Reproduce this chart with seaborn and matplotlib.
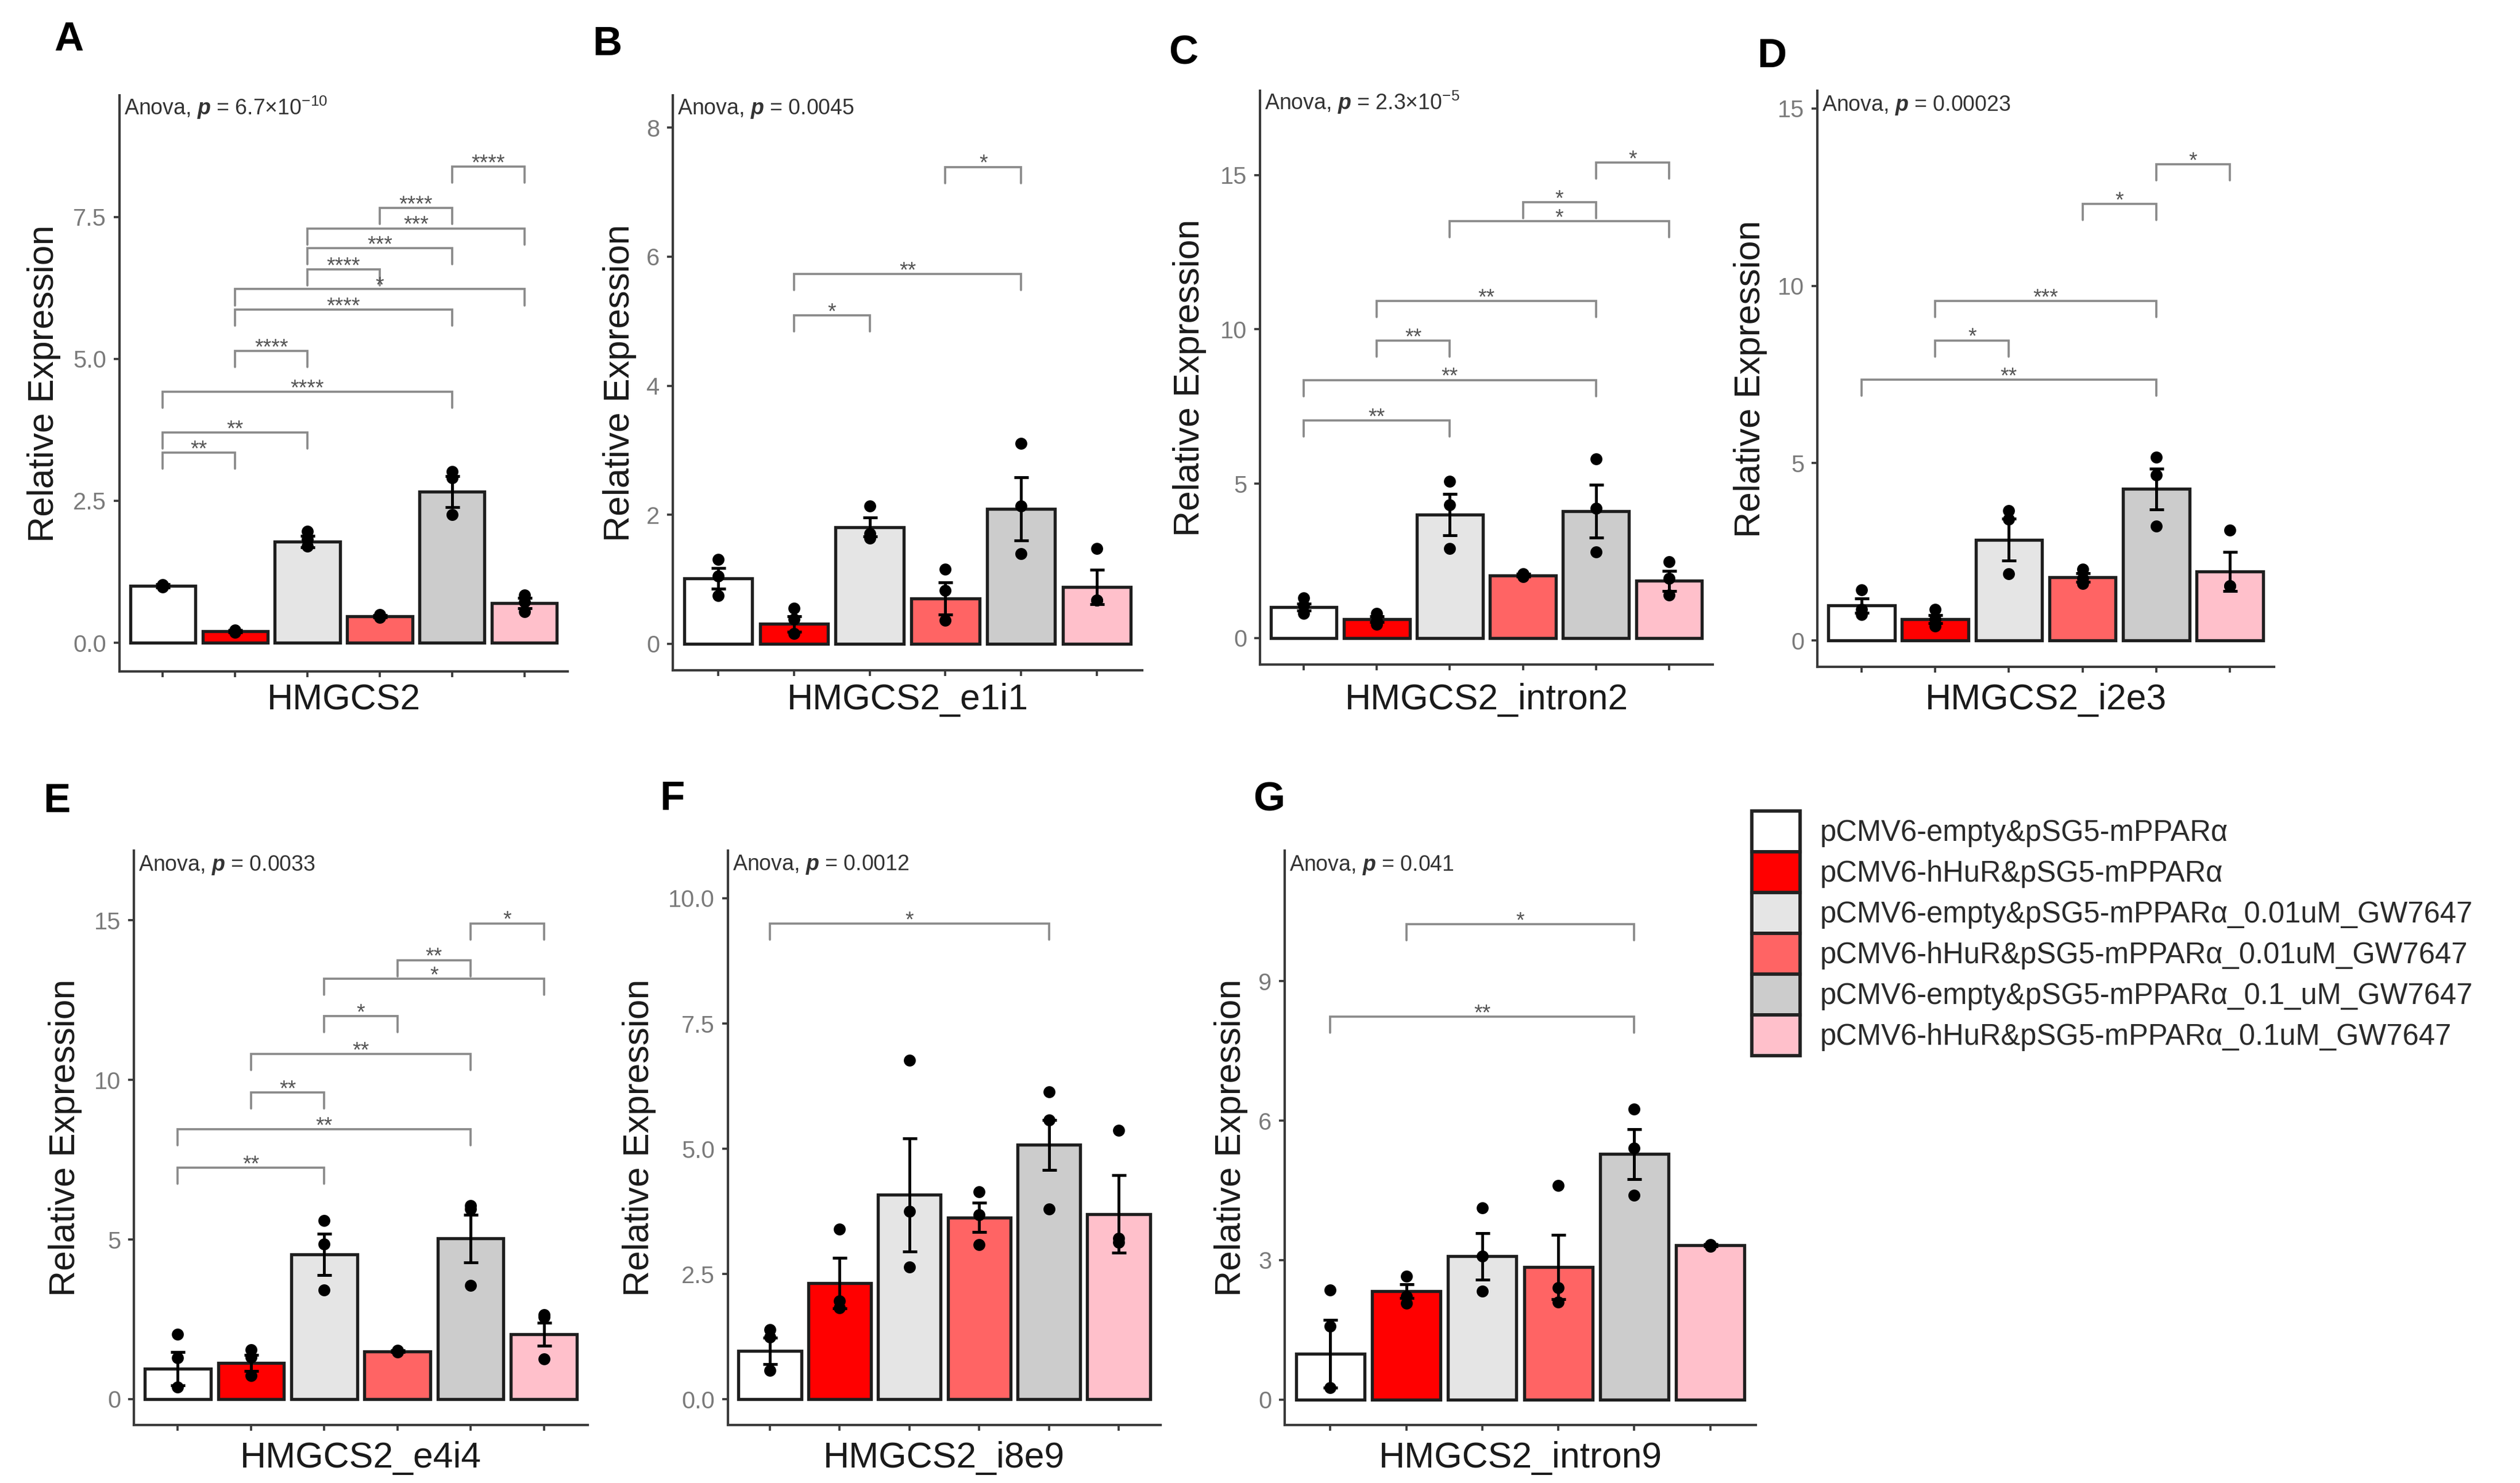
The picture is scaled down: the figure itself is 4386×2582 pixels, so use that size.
import numpy as np
import pandas as pd
import matplotlib
matplotlib.use("Agg")
import matplotlib.pyplot as plt
import matplotlib.transforms as mtransforms
from matplotlib.patches import Patch
import seaborn as sns

# ---------------- data ----------------
groups = ["pCMV6-empty&pSG5-mPPARα",
          "pCMV6-hHuR&pSG5-mPPARα",
          "pCMV6-empty&pSG5-mPPARα_0.01uM_GW7647",
          "pCMV6-hHuR&pSG5-mPPARα_0.01uM_GW7647",
          "pCMV6-empty&pSG5-mPPARα_0.1_uM_GW7647",
          "pCMV6-hHuR&pSG5-mPPARα_0.1uM_GW7647"]
colors = ["#FFFFFF", "#FF0000", "#E5E5E5", "#FF6464", "#CCCCCC", "#FFC0CB"]

panel_letters = ["A", "B", "C", "D", "E", "F", "G"]
genes = ["HMGCS2", "HMGCS2_e1i1", "HMGCS2_intron2", "HMGCS2_i2e3",
         "HMGCS2_e4i4", "HMGCS2_i8e9", "HMGCS2_intron9"]
anova_p = [r"6.7×10$^{-10}$", "0.0045", r"2.3×10$^{-5}$", "0.00023",
           "0.0033", "0.0012", "0.041"]

a_mean = [1.00, 0.20, 1.78, 0.47, 2.66, 0.70]
a_se = [0.03, 0.02, 0.10, 0.02, 0.27, 0.09]
a_pts = [[1.02, 0.99, 0.98], [0.22, 0.20, 0.18], [1.96, 1.82, 1.70],
         [0.50, 0.47, 0.45], [3.02, 2.90, 2.26], [0.84, 0.72, 0.55]]
a_brk = [(1, 2, 3.35, "**"), (1, 3, 3.70, "**"), (1, 5, 4.42, "****"),
         (2, 3, 5.14, "****"), (2, 5, 5.87, "****"), (2, 6, 6.23, "*"),
         (3, 4, 6.58, "****"), (3, 5, 6.95, "***"), (3, 6, 7.30, "***"),
         (4, 5, 7.66, "****"), (5, 6, 8.39, "****")]

b_mean = [1.01, 0.31, 1.81, 0.70, 2.09, 0.88]
b_se = [0.16, 0.12, 0.15, 0.25, 0.49, 0.27]
b_pts = [[1.31, 1.05, 0.75], [0.55, 0.38, 0.16], [2.14, 1.71, 1.64],
         [1.16, 0.83, 0.36], [3.11, 2.14, 1.40], [1.48, 0.68, 0.68]]
b_brk = [(2, 3, 5.09, "*"), (2, 5, 5.73, "**"), (4, 5, 7.39, "*")]

c_mean = [1.00, 0.61, 4.00, 2.03, 4.11, 1.85]
c_se = [0.12, 0.10, 0.67, 0.05, 0.86, 0.33]
c_pts = [[1.30, 1.05, 0.80], [0.80, 0.55, 0.45], [5.07, 4.31, 2.90],
         [2.08, 2.02, 1.98], [5.80, 4.21, 2.79], [2.47, 1.93, 1.39]]
c_brk = [(1, 3, 7.05, "**"), (1, 5, 8.36, "**"), (2, 3, 9.63, "**"),
         (2, 5, 10.92, "**"), (3, 6, 13.50, "*"), (4, 5, 14.12, "*"),
         (5, 6, 15.40, "*")]

d_mean = [0.98, 0.60, 2.84, 1.78, 4.27, 1.94]
d_se = [0.20, 0.12, 0.59, 0.12, 0.58, 0.55]
d_pts = [[1.43, 0.87, 0.73], [0.87, 0.60, 0.40], [3.66, 3.42, 1.88],
         [2.01, 1.75, 1.61], [5.17, 4.66, 3.22], [3.11, 1.54, 1.54]]
d_brk = [(1, 5, 7.35, "**"), (2, 3, 8.46, "*"), (2, 5, 9.57, "***"),
         (4, 5, 12.31, "*"), (5, 6, 13.43, "*")]

e_mean = [0.96, 1.13, 4.53, 1.50, 5.03, 2.03]
e_se = [0.52, 0.25, 0.65, 0.02, 0.74, 0.36]
e_pts = [[2.03, 1.29, 0.37], [1.55, 1.32, 0.74], [5.59, 4.85, 3.41],
         [1.52, 1.50, 1.48], [6.06, 5.96, 3.56], [2.65, 2.57, 1.25]]
e_brk = [(1, 3, 7.25, "**"), (1, 5, 8.45, "**"), (2, 3, 9.60, "**"),
         (2, 5, 10.81, "**"), (3, 4, 11.99, "*"), (3, 6, 13.16, "*"),
         (4, 5, 13.75, "**"), (5, 6, 14.90, "*")]

f_mean = [0.97, 2.32, 4.08, 3.63, 5.08, 3.70]
f_se = [0.26, 0.50, 1.13, 0.29, 0.50, 0.77]
f_pts = [[1.39, 1.24, 0.58], [3.40, 1.97, 1.83], [6.77, 3.75, 2.64],
         [4.14, 3.68, 3.09], [6.14, 5.58, 3.80], [5.37, 3.21, 3.14]]
f_brk = [(1, 5, 9.49, "*")]

g_mean = [0.98, 2.33, 3.08, 2.85, 5.28, 3.32]
g_se = [0.73, 0.15, 0.50, 0.69, 0.54, 0.02]
g_pts = [[2.35, 1.57, 0.25], [2.65, 2.22, 2.07], [4.12, 3.09, 2.33],
         [4.60, 2.41, 2.09], [6.25, 5.41, 4.40], [3.33, 3.32, 3.30]]
g_brk = [(1, 5, 8.24, "**"), (2, 5, 10.23, "*")]

anova_y = [9.43, 8.29, 17.35, 15.08, 16.73, 10.67, 11.50]
y_limits = [(-0.506, 9.645), (-0.41, 8.50), (-0.86, 17.73), (-0.745, 15.50),
            (-0.81, 17.18), (-0.51, 10.95), (-0.55, 11.81)]
y_ticks = [[0, 2.5, 5, 7.5], [0, 2, 4, 6, 8], [0, 5, 10, 15], [0, 5, 10, 15],
           [0, 5, 10, 15], [0, 2.5, 5, 7.5, 10], [0, 3, 6, 9]]
y_ticklabels = [["0.0", "2.5", "5.0", "7.5"], ["0", "2", "4", "6", "8"],
                ["0", "5", "10", "15"], ["0", "5", "10", "15"],
                ["0", "5", "10", "15"], ["0.0", "2.5", "5.0", "7.5", "10.0"],
                ["0", "3", "6", "9"]]

# ---------------- style ----------------
sns.set_theme(style="white")
plt.rcParams["font.family"] = ["Liberation Sans", "DejaVu Sans"]
plt.rcParams["mathtext.fontset"] = "custom"
plt.rcParams["mathtext.rm"] = "Liberation Sans"
plt.rcParams["mathtext.it"] = "Liberation Sans:italic"
plt.rcParams["mathtext.bf"] = "Liberation Sans:bold"
p_cmd = r"\mathit{p}"
try:
    plt.rcParams["mathtext.bfit"] = "Liberation Sans:italic:bold"
    p_cmd = r"\mathbfit{p}"
except Exception:
    pass

W, H, DPI = 4386, 2582, 300
fig = plt.figure(figsize=(W / DPI, H / DPI), dpi=DPI)
fig.patch.set_facecolor("white")

# layout in pixels: left, right, top, bottom
boxes = [(208, 988, 166, 1169), (1171, 1988, 166, 1167), (2193, 2981, 158, 1157),
         (3163, 3958, 158, 1161), (233, 1023, 1481, 2481), (1267, 2020, 1481, 2481),
         (2236, 3056, 1481, 2481)]
ylab_off = [-131, -92, -123, -116, -119, -154, -94]
xlab_base = [1235, 1235, 1235, 1235, 2555, 2555, 2555]
letter_pos = [(120, 70), (1057, 78), (2060, 93), (3084, 99), (99, 1396),
              (1170, 1392), (2209, 1394)]

means = [a_mean, b_mean, c_mean, d_mean, e_mean, f_mean, g_mean]
ses = [a_se, b_se, c_se, d_se, e_se, f_se, g_se]
pts = [a_pts, b_pts, c_pts, d_pts, e_pts, f_pts, g_pts]
brks = [a_brk, b_brk, c_brk, d_brk, e_brk, f_brk, g_brk]

axis_col = "#3a3a3a"
tick_lab_col = "#7a7a7a"

for i in range(7):
    l, r, t, b = boxes[i]
    ax = fig.add_axes([l / W, 1 - b / H, (r - l) / W, (b - t) / H])
    ax.set_facecolor("white")
    bar_df = pd.DataFrame({"group": groups, "value": means[i]})
    sns.barplot(data=bar_df, x="group", y="value", hue="group", order=groups,
                hue_order=groups, palette=colors, saturation=1, width=0.9,
                edgecolor="#1e1e1e", linewidth=1.3, errorbar=None,
                legend=False, ax=ax, zorder=2)
    ax.errorbar(np.arange(len(groups)), means[i], yerr=ses[i], fmt="none",
                ecolor="black", elinewidth=1.2, capsize=3.0, capthick=1.2,
                zorder=3)
    pt_df = pd.DataFrame({
        "group": [g for g, p in zip(groups, pts[i]) for _ in p],
        "value": [v for p in pts[i] for v in p]})
    sns.stripplot(data=pt_df, x="group", y="value", order=groups,
                  color="black", jitter=False, size=5.0, linewidth=0,
                  ax=ax, zorder=4)

    ylo, yhi = y_limits[i]
    tip = 0.028 * (yhi - ylo)
    star_tr = mtransforms.offset_copy(ax.transData, fig=fig, y=-1.2, units="points")
    for g1, g2, yv, lab in brks[i]:
        x1, x2 = g1 - 1, g2 - 1
        ax.plot([x1, x1, x2, x2], [yv - tip, yv, yv, yv - tip], color="#8a8a8a",
                lw=0.9, solid_joinstyle="miter", zorder=1.5)
        ax.text((x1 + x2) / 2, yv, lab, ha="center", va="baseline", fontsize=9,
                color="#555555", transform=star_tr, zorder=5)

    trans = mtransforms.blended_transform_factory(ax.transAxes, ax.transData)
    ax.text(8 / (r - l), anova_y[i], "Anova, $" + p_cmd + "$ = " + anova_p[i],
            transform=trans, ha="left", va="center", fontsize=9, color="#333333",
            zorder=6)

    ax.set_xlim(-0.6, len(groups) - 0.4)
    ax.set_ylim(ylo, yhi)
    ax.set_yticks(y_ticks[i])
    ax.set_yticklabels(y_ticklabels[i])
    ax.set_xticks(np.arange(len(groups)))
    ax.set_xticklabels([""] * len(groups))
    ax.tick_params(axis="both", which="both", direction="out", length=2.5,
                   width=0.9, color=axis_col, pad=3, labelsize=10,
                   labelcolor=tick_lab_col, left=True, bottom=True)
    sns.despine(ax=ax)
    for s in ("left", "bottom"):
        ax.spines[s].set_color(axis_col)
        ax.spines[s].set_linewidth(1.0)
    ax.grid(False)

    ax.set_ylabel("Relative Expression", fontsize=15, color="#1a1a1a")
    ax.yaxis.set_label_coords(ylab_off[i] / (r - l), 0.5)
    ax.yaxis.label.set_verticalalignment("center")
    ax.set_xlabel(genes[i], fontsize=15, color="#1a1a1a")
    ax.xaxis.set_label_coords(0.5, -(xlab_base[i] - b) / (b - t))
    ax.xaxis.label.set_verticalalignment("baseline")

    lx, ly = letter_pos[i]
    fig.text(lx / W, 1 - ly / H, panel_letters[i], fontsize=17, fontweight="bold",
             ha="center", va="center", color="black")

# legend
fs = 12.2
fs_px = fs / 72 * DPI
handles = [Patch(facecolor=c, edgecolor="#222222", linewidth=1.4) for c in colors]
fig.legend(handles, groups, loc="upper left",
           bbox_to_anchor=(3049 / W, 1 - 1412 / H), frameon=False, fontsize=fs,
           handlelength=84 / fs_px, handleheight=90 / fs_px, labelspacing=0.0,
           handletextpad=35 / fs_px, borderpad=0, borderaxespad=0,
           labelcolor="#2a2a2a")

fig.savefig("out.png", dpi=DPI, facecolor="white")
